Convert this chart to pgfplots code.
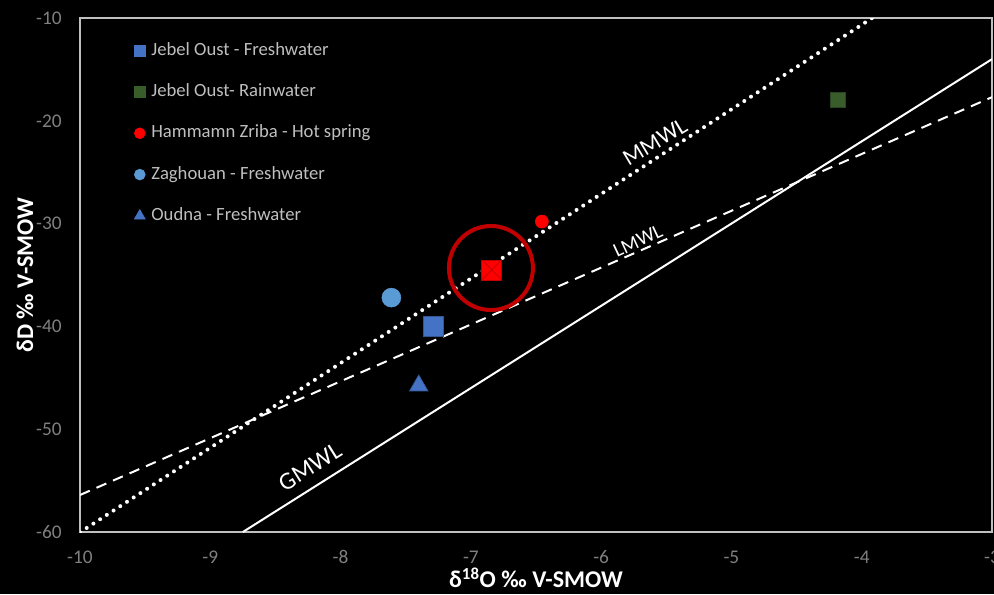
\documentclass[border=0pt]{standalone}
\usepackage{fontspec}
\setmainfont{Carlito}
\usepackage{pgfplots}
\pgfplotsset{compat=1.18}

\definecolor{jofresh}{HTML}{4472C4}
\definecolor{jorain}{HTML}{385D2B}
\definecolor{hotspring}{HTML}{FF0000}
\definecolor{zagh}{HTML}{5B9BD5}
\definecolor{ringred}{HTML}{C00000}
\definecolor{ticktext}{HTML}{808080}
\definecolor{legtext}{HTML}{BFBFBF}
\definecolor{framegray}{HTML}{BFBFBF}

\pgfplotsset{
  dotlegend/.style={legend image code/.code={\draw[##1] plot coordinates {(0cm,0cm)};}},
}

\begin{document}
\begin{tikzpicture}
\fill[black] (-60pt,-46.5pt) rectangle (685.5pt,399pt);
\path[use as bounding box] (-60pt,-46.5pt) rectangle (685.5pt,399pt);
\begin{axis}[
  at={(0,0)}, anchor=south west,
  scale only axis, width=684pt, height=385.5pt,
  xmin=-10, xmax=-3, ymin=-60, ymax=-10,
  xtick={-10,-9,-8,-7,-6,-5,-4,-3},
  ytick={-60,-50,-40,-30,-20,-10},
  xticklabels={-10,-9,-8,-7,-6,-5,-4,-3},
  yticklabels={-60,-50,-40,-30,-20,-10},
  major tick length=0pt,
  axis line style={framegray, line width=0.8pt},
  tick label style={font=\fontsize{14.5}{16}\selectfont, text=ticktext, inner sep=0pt},
  xticklabel style={anchor=center, yshift=-18.75pt},
  yticklabel style={anchor=east, xshift=-13.5pt},
  xlabel={δ\textsuperscript{18}O ‰ V-SMOW},
  ylabel={δD ‰ V-SMOW},
  label style={font=\bfseries\fontsize{18}{20}\selectfont, text=white},
  xlabel style={at={(axis description cs:0.5,-0.089)}, anchor=center},
  ylabel style={at={(axis description cs:-0.0603,0.5)}, anchor=center},
  legend style={at={(axis description cs:0.0592,0.954)}, anchor=north west,
    draw=none, fill=none, text=legtext, font=\fontsize{14}{16}\selectfont,
    row sep=18pt, column sep=4.5pt, inner sep=0pt,
    nodes={inner sep=0pt, text height=10pt, text depth=3pt}},
  legend cell align=left,
]
% sample points
\addplot[only marks, mark=square*, mark size=7.5pt, draw=jofresh!75!black, fill=jofresh, line width=0.5pt, forget plot]
  coordinates {(-7.29,-40.0)};
\addplot[only marks, mark=square*, mark size=5.6pt, draw=jorain!75!black, fill=jorain, line width=0.5pt, forget plot]
  coordinates {(-4.18,-18.0)};
\addplot[only marks, mark=*, mark size=4.9pt, draw=hotspring, fill=hotspring, forget plot]
  coordinates {(-6.455,-29.8)};
\addplot[only marks, mark=square*, mark size=7.5pt, draw=ringred, fill=hotspring, line width=0.5pt, forget plot]
  coordinates {(-6.84,-34.5)};
\addplot[only marks, mark=x, mark size=10.6pt, draw=ringred, line width=0.6pt, forget plot]
  coordinates {(-6.84,-34.5)};
\addplot[only marks, mark=*, mark size=7.1pt, draw=zagh, fill=zagh, forget plot]
  coordinates {(-7.61,-37.2)};
\addplot[only marks, mark=triangle*, mark size=8pt, draw=jofresh!75!black, fill=jofresh, line width=0.5pt,
  mark options={yshift=-2pt}, forget plot]
  coordinates {(-7.40,-45.5)};
% highlight ring
\addplot[only marks, mark=o, mark size=31.5pt, draw=ringred, line width=3pt, forget plot]
  coordinates {(-6.846,-34.32)};

% meteoric water lines
\addplot[white, line width=1.5pt, forget plot] coordinates {(-8.75,-60) (-3,-14)};
\addplot[white, line width=3pt, line cap=round, dash pattern=on 0pt off 6pt, forget plot]
  coordinates {(-10,-60.03) (-3.92,-10)};
\addplot[white, line width=1.5pt, dash pattern=on 8pt off 5.5pt, forget plot]
  coordinates {(-10,-56.4) (-3,-17.7)};

\node[text=white, rotate=31, font=\fontsize{17.5}{19}\selectfont] at (axis cs:-5.587,-22.06) {MMWL};
\node[text=white, rotate=25, font=\fontsize{15}{17}\selectfont] at (axis cs:-5.718,-31.69) {LMWL};
\node[text=white, rotate=32, font=\fontsize{18.5}{20}\selectfont] at (axis cs:-8.235,-53.68) {GMWL};

% legend
\addlegendimage{only marks, mark=square*, mark size=4.1pt, draw=jofresh, fill=jofresh, dotlegend}
\addlegendentry{Jebel Oust - Freshwater}
\addlegendimage{only marks, mark=square*, mark size=4.1pt, draw=jorain, fill=jorain, dotlegend}
\addlegendentry{Jebel Oust- Rainwater}
\addlegendimage{only marks, mark=*, mark size=4.1pt, draw=hotspring, fill=hotspring, dotlegend}
\addlegendentry{Hammamn Zriba - Hot spring}
\addlegendimage{only marks, mark=*, mark size=4.1pt, draw=zagh, fill=zagh, dotlegend}
\addlegendentry{Zaghouan - Freshwater}
\addlegendimage{only marks, mark=triangle*, mark size=4.8pt, draw=jofresh, fill=jofresh, dotlegend}
\addlegendentry{Oudna - Freshwater}
\end{axis}
\end{tikzpicture}
\end{document}
